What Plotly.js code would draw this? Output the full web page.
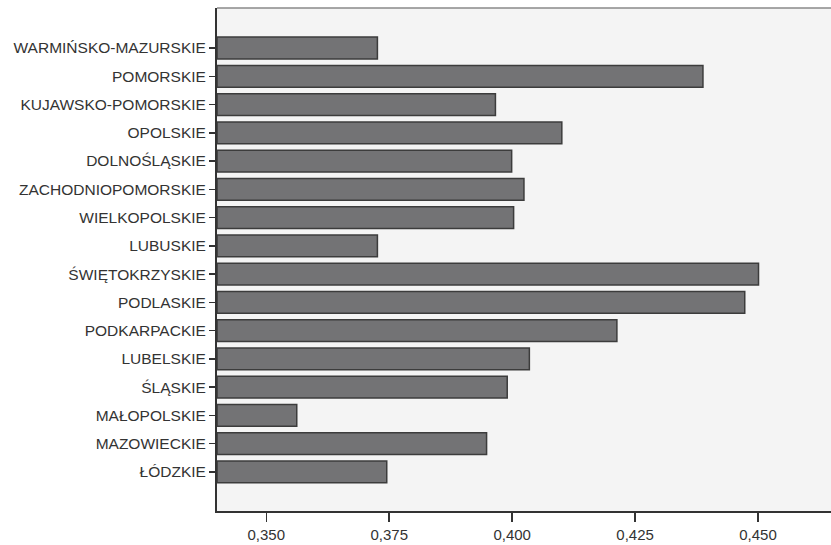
<!DOCTYPE html>
<html>
<head>
<meta charset="utf-8">
<script src="https://cdn.plot.ly/plotly-3.0.1.min.js"></script>
<style>html,body{margin:0;padding:0;background:#fff;}#chart{width:831px;height:545px;}</style>
</head>
<body>
<div id="chart"></div>
<script>
// Categories listed from top to bottom as in the picture
var regions = [
  "WARMIŃSKO-MAZURSKIE", "POMORSKIE", "KUJAWSKO-POMORSKIE", "OPOLSKIE",
  "DOLNOŚLĄSKIE", "ZACHODNIOPOMORSKIE", "WIELKOPOLSKIE", "LUBUSKIE",
  "ŚWIĘTOKRZYSKIE", "PODLASKIE", "PODKARPACKIE", "LUBELSKIE",
  "ŚLĄSKIE", "MAŁOPOLSKIE", "MAZOWIECKIE", "ŁÓDZKIE"
];
var values = [
  0.3726, 0.4388, 0.3966, 0.4101,
  0.3999, 0.4024, 0.4003, 0.3726,
  0.4501, 0.4473, 0.4213, 0.4035,
  0.3990, 0.3562, 0.3948, 0.3745
];
var xTickValues = [0.350, 0.375, 0.400, 0.425, 0.450];
var axisStart = 0.34;

var catsBottomUp = regions.slice().reverse();
var valsBottomUp = values.slice().reverse();

var trace = {
  type: "bar",
  orientation: "h",
  y: catsBottomUp,
  x: valsBottomUp.map(function(v){ return v - axisStart; }),
  base: axisStart,
  width: 0.77,
  marker: { color: "#737375", line: { color: "#3c3c3c", width: 1.5 } },
  hoverinfo: "x+y"
};

var fontFam = "Liberation Sans, Arial, sans-serif";
var layout = {
  width: 831, height: 545,
  margin: { l: 217, r: 0, t: 8, b: 34 },
  paper_bgcolor: "#ffffff",
  plot_bgcolor: "#f4f4f4",
  separators: ", ",
  showlegend: false,
  font: { family: fontFam, size: 15.5, color: "#333333" },
  xaxis: {
    range: [0.33998, 0.46484],
    tickvals: xTickValues,
    tickformat: ".3f",
    ticks: "outside", ticklen: 9, tickwidth: 1.5, tickcolor: "#333333",
    ticklabelstandoff: 0,
    showgrid: false, zeroline: false,
    showline: true, linecolor: "#333333", linewidth: 2,
    tickfont: { family: fontFam, size: 15, color: "#333333" }
  },
  yaxis: {
    type: "category",
    categoryorder: "array",
    categoryarray: catsBottomUp,
    range: [-1.38, 16.415],
    ticks: "outside", ticklen: 6, tickwidth: 1.5, tickcolor: "#333333",
    showgrid: false, zeroline: false,
    showline: true, linecolor: "#333333", linewidth: 2,
    tickfont: { family: fontFam, size: 15.5, color: "#333333" }
  },
  shapes: [
    { type: "line", xref: "paper", yref: "paper", x0: 0, x1: 1, y0: 1, y1: 1,
      line: { color: "#8a8a8a", width: 1.5 } }
  ]
};

Plotly.newPlot("chart", [trace], layout, { displayModeBar: false, staticPlot: true });
</script>
</body>
</html>
